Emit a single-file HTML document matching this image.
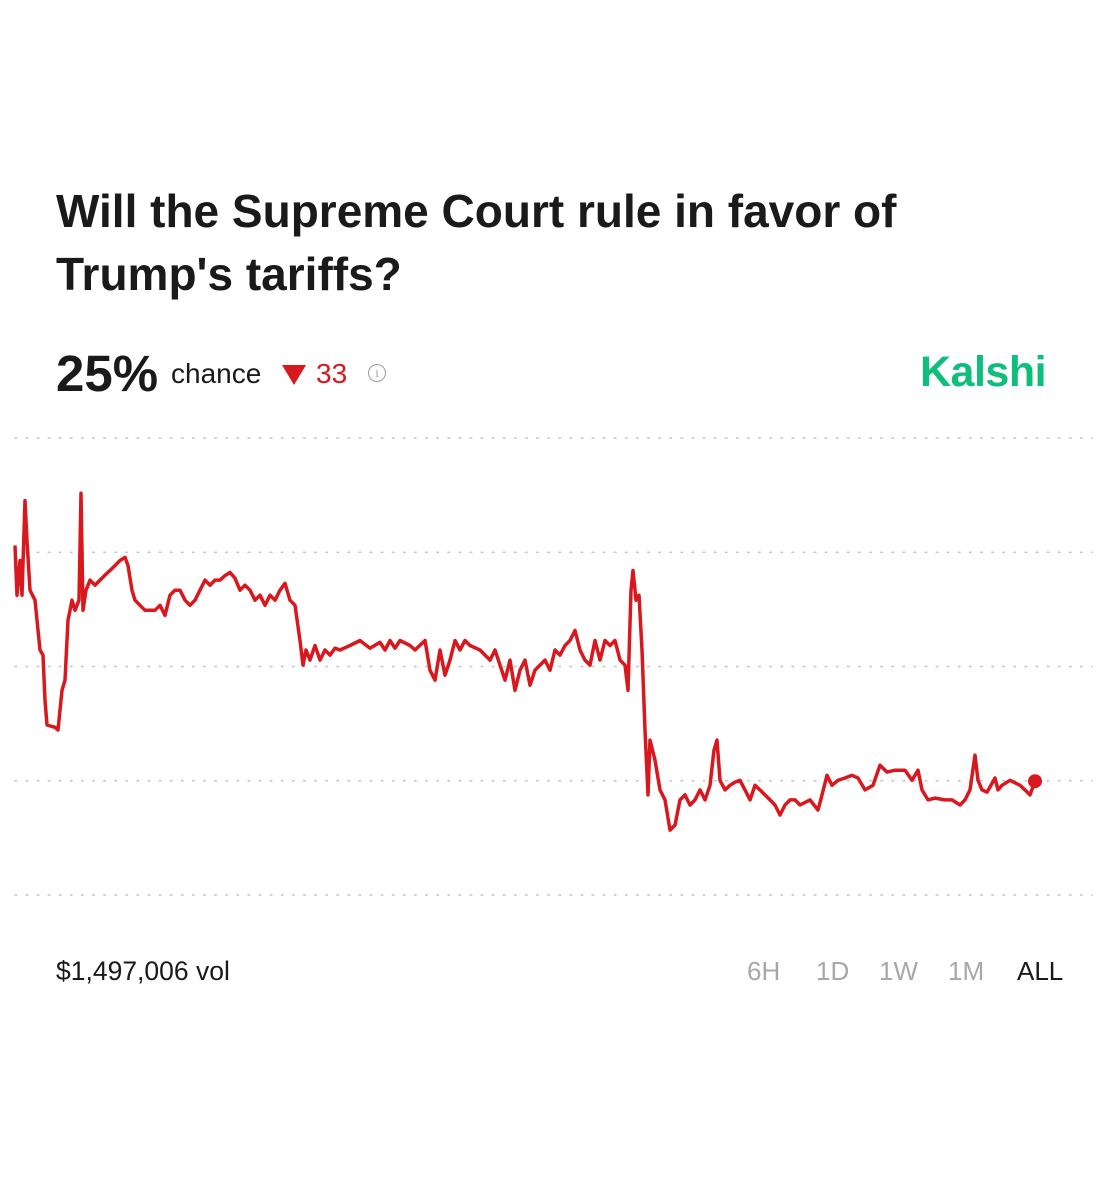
<!DOCTYPE html>
<html><head><meta charset="utf-8">
<style>
html,body{margin:0;padding:0;background:#fff;}
body{width:1107px;height:1200px;position:relative;overflow:hidden;font-family:"Liberation Sans",Arial,sans-serif;}
#title{position:absolute;left:56px;top:180px;width:1000px;font-size:46px;font-weight:bold;line-height:63px;color:#1a1a1a;letter-spacing:0;margin:0;}
#pct{position:absolute;left:56px;top:344px;font-size:51px;font-weight:bold;color:#1a1a1a;}
#chance{position:absolute;left:171px;top:358px;font-size:28px;color:#1a1a1a;}
#tri{position:absolute;left:282px;top:365px;width:0;height:0;border-left:12px solid transparent;border-right:12px solid transparent;border-top:20px solid #d9181e;}
#delta{position:absolute;left:316px;top:358px;font-size:28px;color:#d9181e;}
#info{position:absolute;left:368px;top:364px;width:16px;height:16px;border:1.5px solid #999;border-radius:50%;font-size:12px;color:#999;text-align:center;line-height:16px;font-family:"Liberation Serif",serif;}
#brand{position:absolute;left:920px;top:348px;font-size:43px;font-weight:bold;color:#0fbd7d;letter-spacing:-0.5px;}
#vol{position:absolute;left:56px;top:956px;font-size:26.5px;color:#1a1a1a;}
.rng{position:absolute;top:956px;font-size:26px;color:#a8a8a8;}
svg{position:absolute;left:0;top:0;}
</style></head>
<body>
<h1 id="title">Will the Supreme Court rule in favor of<br>Trump's tariffs?</h1>
<div id="pct">25%</div>
<div id="chance">chance</div>
<div id="tri"></div>
<div id="delta">33</div>
<div id="info">i</div>
<div id="brand">Kalshi</div>
<svg id="chart" width="1107" height="1200"></svg>
<div id="vol">$1,497,006 vol</div>
<div class="rng" style="left:747px">6H</div>
<div class="rng" style="left:816px">1D</div>
<div class="rng" style="left:879px">1W</div>
<div class="rng" style="left:948px">1M</div>
<div class="rng" style="left:1017px;color:#1a1a1a">ALL</div>
<script>
const gridValues = [0, 25, 50, 75, 100];
const times = [0,2,5,7,10,12,15,20,25,28,30,32,40,43,47,50,53,55,57,60,64,66,68,71,75,80,85,90,95,100,105,110,113,117,120,125,130,135,140,145,150,155,160,165,170,175,180,185,190,195,200,205,210,215,220,225,230,235,240,245,250,255,260,265,270,275,280,285,288,291,295,300,305,310,315,320,325,335,345,355,365,370,375,380,385,395,400,410,415,420,425,430,435,440,445,450,455,465,475,480,485,490,495,500,505,510,515,520,525,530,535,540,545,550,555,560,565,570,575,580,585,590,595,600,605,610,613,616,618,621,624,627,630,633,635,640,645,650,655,660,665,670,675,680,685,690,695,699,702,705,710,715,720,725,730,735,740,745,750,755,760,765,770,775,780,785,795,803,807,812,817,823,830,837,843,850,858,865,872,880,890,897,903,907,913,920,930,937,945,950,955,960,963,967,972,980,983,987,995,1005,1010,1015,1020,1025,1028,1032];
const values = [76.5,65.6,73.2,65.6,86.3,77.5,66.7,64.5,53.6,52.5,42.6,37.2,36.7,36.1,44.8,47.0,60.1,62.3,64.5,62.3,64.5,87.9,62.3,66.7,68.9,67.8,68.9,70.0,71.0,72.1,73.2,73.9,72.1,66.7,64.5,63.4,62.3,62.3,62.3,63.4,61.2,65.6,66.7,66.7,64.5,63.4,64.5,66.7,68.9,67.8,68.9,68.9,69.9,70.6,69.3,66.7,67.8,66.7,64.5,65.6,63.4,65.6,64.5,66.7,68.2,64.5,63.4,55.7,50.3,53.6,51.4,54.6,51.4,53.6,52.5,54.0,53.6,54.6,55.7,54.0,55.3,53.6,55.7,54.0,55.7,54.6,53.6,55.7,49.2,47.0,53.6,48.1,51.4,55.7,53.6,55.7,54.6,53.6,51.4,53.6,50.3,47.0,51.4,44.8,49.2,51.4,45.9,49.2,50.3,51.4,49.2,53.6,52.5,54.6,55.7,57.9,53.6,51.4,50.3,55.7,51.4,55.7,54.6,55.7,51.4,50.3,44.8,66.7,71.0,64.5,65.6,53.6,36.1,21.9,33.9,29.5,23.0,20.8,14.2,15.3,20.8,21.9,19.7,20.8,23.0,20.8,24.0,31.7,33.9,25.1,23.0,24.0,24.7,25.1,23.0,20.8,24.0,23.0,21.9,20.8,19.7,17.5,19.7,20.8,20.8,19.7,20.8,18.6,21.9,26.2,24.0,25.1,25.6,26.2,25.6,23.0,24.0,28.4,26.9,27.3,27.3,25.1,27.3,23.0,20.8,21.2,20.8,20.8,19.7,20.8,23.0,30.6,25.1,23.0,22.5,25.6,23.0,24.0,25.1,24.0,23.0,21.9,24.9];

const svg = document.getElementById('chart');
const NS = 'http://www.w3.org/2000/svg';
const X0 = 15, X1 = 1047, Y0 = 895, Y100 = 438;
const xMax = times[times.length - 1];
function xScale(t){ return X0 + (t / xMax) * (X1 - X0); }
function yScale(v){ return Y0 - (v / 100) * (Y0 - Y100); }

gridValues.forEach(function(g){
  const ln = document.createElementNS(NS, 'line');
  
  
  ln.setAttribute('x1', 15); ln.setAttribute('x2', 1092);
  ln.setAttribute('y1', yScale(g)); ln.setAttribute('y2', yScale(g));
  ln.setAttribute('stroke', '#c4c4c4'); ln.setAttribute('stroke-width', '1.6');
  ln.setAttribute('stroke-dasharray', '1.6 9.5');
  ln.setAttribute('stroke-linecap', 'round');
  svg.appendChild(ln);
});

let d = '';
times.forEach(function(t, i){
  d += (i ? 'L' : 'M') + xScale(t).toFixed(1) + ' ' + yScale(values[i]).toFixed(1);
});
const path = document.createElementNS(NS, 'path');


path.setAttribute('d', d);
path.setAttribute('fill', 'none');
path.setAttribute('stroke', '#d9181e');
path.setAttribute('stroke-width', '3.5');
path.setAttribute('stroke-linejoin', 'round');
svg.appendChild(path);

const last = values.length - 1;
const dot = document.createElementNS(NS, 'circle');


dot.setAttribute('cx', xScale(times[last]));
dot.setAttribute('cy', yScale(values[last]));
dot.setAttribute('r', 7);
dot.setAttribute('fill', '#d9181e');
svg.appendChild(dot);
</script>
</body></html>
